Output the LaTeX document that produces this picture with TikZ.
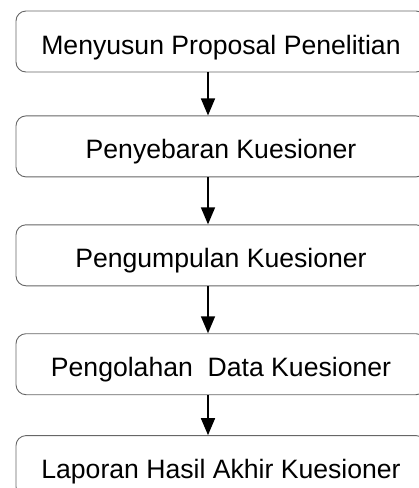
\documentclass[tikz,border=0pt]{standalone}
\usepackage{fontspec}
\setmainfont{Liberation Sans}
\usepackage{tikz}
\usetikzlibrary{positioning}
\usetikzlibrary{arrows.meta}
\tikzset{edge/.style = {-{Triangle[width=14pt,length=17pt]}, line width=1.6pt}}

\begin{document}
\begin{tikzpicture}[x=1pt,y=1pt,main node/.style={rectangle,rounded corners=10pt,draw=black!60,line width=0.9pt,minimum width=410pt,minimum height=61pt,inner sep=0pt,font=\fontsize{26.6}{30}\selectfont,text height=25pt,text depth=0pt}]
                \useasboundingbox (0,0) rectangle (419,-488);
                \node[main node] (1) at (221,-41.5) {Menyusun Proposal Penelitian};
                \node[main node] (2) [below=43pt of 1] {Penyebaran Kuesioner};
                \node[main node] (3) [below=47pt of 2] {Pengumpulan Kuesioner};
                \node[main node] (4) [below=47pt of 3] {Pengolahan~~Data Kuesioner};
                \node[main node] (5) [below=40pt of 4] {Laporan Hasil Akhir Kuesioner};

                \draw[edge] ([xshift=-13pt]1.south) -- ([xshift=-13pt]2.north);
                \draw[edge] ([xshift=-13pt]2.south) -- ([xshift=-13pt]3.north);
                \draw[edge] ([xshift=-13pt]3.south) -- ([xshift=-13pt]4.north);
                \draw[edge] ([xshift=-13pt]4.south) -- ([xshift=-13pt]5.north);
            \end{tikzpicture}
\end{document}
